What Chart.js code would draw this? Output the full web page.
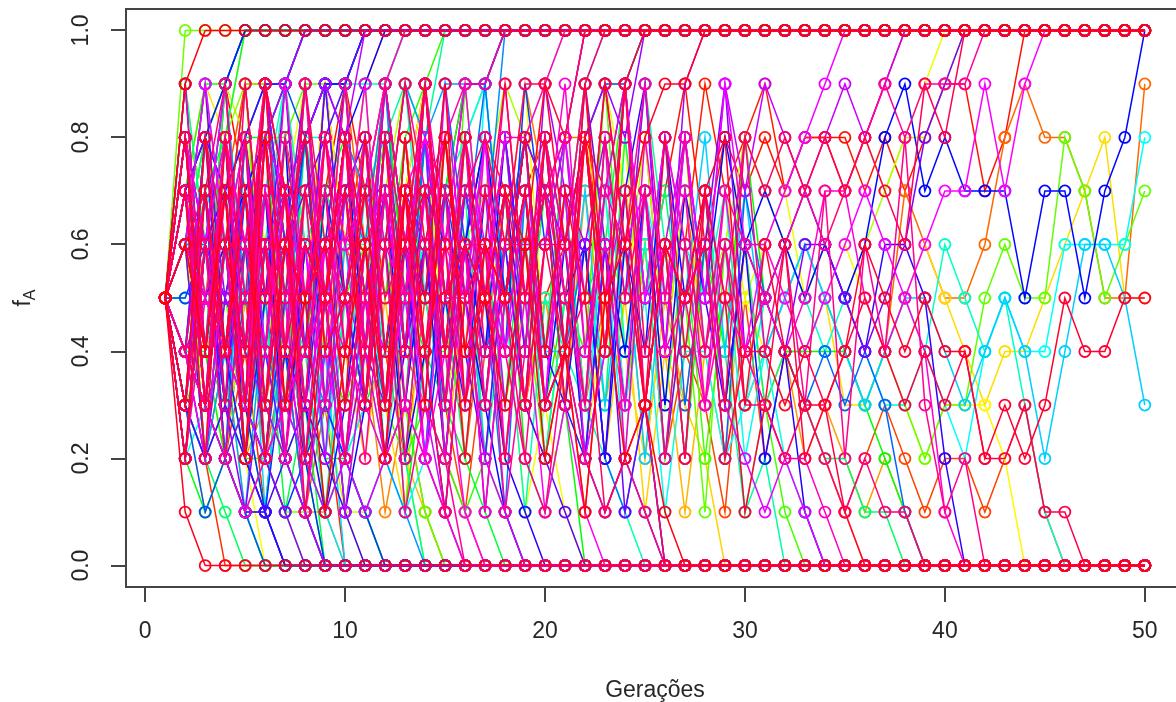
<!DOCTYPE html>
<html>
<head>
<meta charset="utf-8">
<script src="https://cdn.jsdelivr.net/npm/chart.js@4.4.1/dist/chart.umd.min.js"></script>
<style>
html,body{margin:0;padding:0;overflow:hidden;background:#ffffff;}
#wrap{width:1200px;height:702px;}
canvas{display:block;}
</style>
</head>
<body>
<div id="wrap"><canvas id="c" width="1200" height="702"></canvas></div>
<script>
// ---- data: generations (x) ----
const generations = [1,2,3,4,5,6,7,8,9,10,11,12,13,14,15,16,17,18,19,20,21,22,23,24,25,26,27,28,29,30,31,32,33,34,35,36,37,38,39,40,41,42,43,44,45,46,47,48,49,50];
const xTicks = [0,10,20,30,40,50];
const yTicks = [0,0.2,0.4,0.6,0.8,1.0];
const yTickLabels = ["0.0","0.2","0.4","0.6","0.8","1.0"];
const xTitle = "Gerações";
const yTitleMain = "f";
const yTitleSub = "A";
// ---- data: allele frequency of each population, in tenths (A = 10), generations 1-50 in groups of ten ----
const runs = [
"5746532100 0000000000 0000000000 0000000000 0000000000",
"5649738574 6385799AAA AAAAAAAAAA AAAAAAAAAA AAAAAAAAAA",
"5736858679 7958768478 6879579687 8788878789 978AAAAAAA",
"5362547496 8579468735 6947586978 9788789AAA AAAAAAAAAA",
"5372415230 0000000000 0000000000 0000000000 0000000000",
"5320000000 0000000000 0000000000 0000000000 0000000000",
"5847696848 79AAAAAAAA AAAAAAAAAA AAAAAAAAAA AAAAAAAAAA",
"5724635243 6425314632 4153624315 2432123212 2123100000",

"5687999AAA AAAAAAAAAA AAAAAAAAAA AAAAAAAAAA AAAAAAAAAA",
"5263524132 1000000000 0000000000 0000000000 0000000000",
"5434545676 5443210000 0000000000 0000000000 0000000000",
"5386472659 6374725684 7356847463 4565434765 5689887559",
"5758696758 4637548697 8899AAAAAA AAAAAAAAAA AAAAAAAAAA",
"5789AAAAAA AAAAAAAAAA AAAAAAAAAA AAAAAAAAAA AAAAAAAAAA",
"5426374152 4131000000 0000000000 0000000000 0000000000",
"5434232110 0000000000 0000000000 0000000000 0000000000",

"5847463648 5967364735 3746253624 3423212100 0000000000",
"5836957846 9AAAAAAAAA AAAAAAAAAA AAAAAAAAAA AAAAAAAAAA",
"5645789AAA AAAAAAAAAA AAAAAAAAAA AAAAAAAAAA AAAAAAAAAA",
"5268475376 4836253748 5635741426 3232100000 0000000000",
"5374625314 2521000000 0000000000 0000000000 0000000000",
"5312100000 0000000000 0000000000 0000000000 0000000000",
"5693748596 7384695847 3625143200 0000000000 0000000000",
"5473869654 7316462587 3864257356 6545334565 4344567855",

"5798AAAAAA AAAAAAAAAA AAAAAAAAAA AAAAAAAAAA AAAAAAAAAA",
"5478AAAAAA AAAAAAAAAA AAAAAAAAAA AAAAAAAAAA AAAAAAAAAA",
"5637248596 3748452694 7258364735 4345654323 3320000000",
"5564200000 0000000000 0000000000 0000000000 0000000000",
"5734862647 5368472513 1000000000 0000000000 0000000000",
"5794867958 6479585769 8497568375 675678789A AAAAAAAAAA",
"5628495738 69AAAAAAAA AAAAAAAAAA AAAAAAAAAA AAAAAAAAAA",
"5432100000 0000000000 0000000000 0000000000 0000000000",

"5657654321 1000000000 0000000000 0000000000 0000000000",
"5374126231 0000000000 0000000000 0000000000 0000000000",
"5789899AAA AAAAAAAAAA AAAAAAAAAA AAAAAAAAAA AAAAAAAAAA",
"5384746958 4796358574 6965847568 7656567889 AAAAAAAAAA",
"5869475836 9475867989 AAAAAAAAAA AAAAAAAAAA AAAAAAAAAA",
"5323432100 0000000000 0000000000 0000000000 0000000000",
"5642573514 3620000000 0000000000 0000000000 0000000000",
"5878999AAA AAAAAAAAAA AAAAAAAAAA AAAAAAAAAA AAAAAAAAAA",

"5454321100 0000000000 0000000000 0000000000 0000000000",
"5967685948 69AAAAAAAA AAAAAAAAAA AAAAAAAAAA AAAAAAAAAA",
"5AAAAAAAAA AAAAAAAAAA AAAAAAAAAA AAAAAAAAAA AAAAAAAAAA",
"5625374245 3726485352 5473625164 5445434323 3565587567",
"5254637251 4231000000 0000000000 0000000000 0000000000",
"5676788999 AAAAAAAAAA AAAAAAAAAA AAAAAAAAAA AAAAAAAAAA",
"5736948375 6847395762 5494736251 3100000000 0000000000",
"5343221000 0000000000 0000000000 0000000000 0000000000",

"5687656543 4323212100 0000000000 0000000000 0000000000",
"5374826374 7589AAAAAA AAAAAAAAAA AAAAAAAAAA AAAAAAAAAA",
"5799AAAAAA AAAAAAAAAA AAAAAAAAAA AAAAAAAAAA AAAAAAAAAA",
"5456787899 AAAAAAAAAA AAAAAAAAAA AAAAAAAAAA AAAAAAAAAA",
"5642315200 0000000000 0000000000 0000000000 0000000000",
"5736264857 3614475263 5847362648 5444432100 0000000000",
"5857396478 5956485721 3000000000 0000000000 0000000000",
"5212100000 0000000000 0000000000 0000000000 0000000000",

"5665432322 1000000000 0000000000 0000000000 0000000000",
"5726384952 6384799AAA AAAAAAAAAA AAAAAAAAAA AAAAAAAAAA",
"5767889AAA AAAAAAAAAA AAAAAAAAAA AAAAAAAAAA AAAAAAAAAA",
"5434323212 3454321000 0000000000 0000000000 0000000000",
"5364251300 0000000000 0000000000 0000000000 0000000000",
"5678AAAAAA AAAAAAAAAA AAAAAAAAAA AAAAAAAAAA AAAAAAAAAA",
"5849573869 4738526374 8569AAAAAA AAAAAAAAAA AAAAAAAAAA",
"5321000000 0000000000 0000000000 0000000000 0000000000",

"5264736365 4726365847 4638574636 3432211000 0000000000",
"5689AAAAAA AAAAAAAAAA AAAAAAAAAA AAAAAAAAAA AAAAAAAAAA",
"5565789AAA AAAAAAAAAA AAAAAAAAAA AAAAAAAAAA AAAAAAAAAA",
"5446543212 1000000000 0000000000 0000000000 0000000000",
"5472636415 3620000000 0000000000 0000000000 0000000000",
"5676545676 7898AAAAAA AAAAAAAAAA AAAAAAAAAA AAAAAAAAAA",
"5967465856 6475389564 7385962741 2000000000 0000000000",
"5434210000 0000000000 0000000000 0000000000 0000000000",

"5867364725 8356472515 4321000000 0000000000 0000000000",
"5263842100 0000000000 0000000000 0000000000 0000000000",
"5486279654 7253856472 5384626573 5654543346 5453100000",
"5434567889 99AAAAAAAA AAAAAAAAAA AAAAAAAAAA AAAAAAAAAA",
"5748369574 8695789AAA AAAAAAAAAA AAAAAAAAAA AAAAAAAAAA",
"5232100000 0000000000 0000000000 0000000000 0000000000",
"5386274635 8462739584 6273514462 4210000000 0000000000",
"5654345432 3212100000 0000000000 0000000000 0000000000",

"5372648563 7469583754 6362758423 4565434543 2454466668",
"5847396899 AAAAAAAAAA AAAAAAAAAA AAAAAAAAAA AAAAAAAAAA",
"5676567899 AAAAAAAAAA AAAAAAAAAA AAAAAAAAAA AAAAAAAAAA",
"5432123210 0000000000 0000000000 0000000000 0000000000",
"5362715240 0000000000 0000000000 0000000000 0000000000",
"5748362657 4864736584 4736265847 4565434554 3454246653",
"5696847526 3857462638 69AAAAAAAA AAAAAAAAAA AAAAAAAAAA",
"5787899AAA AAAAAAAAAA AAAAAAAAAA AAAAAAAAAA AAAAAAAAAA",

"5323210000 0000000000 0000000000 0000000000 0000000000",
"5324152100 0000000000 0000000000 0000000000 0000000000",
"5369574858 7698999AAA AAAAAAAAAA AAAAAAAAAA AAAAAAAAAA",
"5456543432 1210000000 0000000000 0000000000 0000000000",
"5768495837 6948576AAA AAAAAAAAAA AAAAAAAAAA AAAAAAAAAA",
"5667899AAA AAAAAAAAAA AAAAAAAAAA AAAAAAAAAA AAAAAAAAAA",
"5472836495 3748265173 4621300000 0000000000 0000000000",
"5847364145 3748569587 6899AAAAAA AAAAAAAAAA AAAAAAAAAA",

"5263847562 5375964683 7249583627 5434343100 0000000000",
"5869AAAAAA AAAAAAAAAA AAAAAAAAAA AAAAAAAAAA AAAAAAAAAA",
"5312100000 0000000000 0000000000 0000000000 0000000000",
"5565789899 AAAAAAAAAA AAAAAAAAAA AAAAAAAAAA AAAAAAAAAA",
"5374625837 4962758496 8AAAAAAAAA AAAAAAAAAA AAAAAAAAAA",
"5434321232 1000000000 0000000000 0000000000 0000000000",
"5426314200 0000000000 0000000000 0000000000 0000000000",
"5748256375 8462537584 3212100000 0000000000 0000000000",

"5789AAAAAA AAAAAAAAAA AAAAAAAAAA AAAAAAAAAA AAAAAAAAAA",
"5738496899 AAAAAAAAAA AAAAAAAAAA AAAAAAAAAA AAAAAAAAAA",
"5836472658 5749568573 6264737586 7656568978 777577578A",
"5432110000 0000000000 0000000000 0000000000 0000000000",
"5263748251 3624153100 0000000000 0000000000 0000000000",
"5656787898 9AAAAAAAAA AAAAAAAAAA AAAAAAAAAA AAAAAAAAAA",
"5847362658 4736264857 3626485736 2410000000 0000000000",
"5736264313 6246375210 0000000000 0000000000 0000000000",

"5947385657 4859463748 5627948536 5676546652 0000000000",
"5374210000 0000000000 0000000000 0000000000 0000000000",
"5767899AAA AAAAAAAAAA AAAAAAAAAA AAAAAAAAAA AAAAAAAAAA",
"5323212321 0000000000 0000000000 0000000000 0000000000",
"5694857369 4857699AAA AAAAAAAAAA AAAAAAAAAA AAAAAAAAAA",
"5372659467 8365742632 1000000000 0000000000 0000000000",
"5483726495 3847261538 4261300000 0000000000 0000000000",
"5787656789 AAAAAAAAAA AAAAAAAAAA AAAAAAAAAA AAAAAAAAAA",

"5625473658 5746365857 4963725694 5466545689 AAAAAAAAAA",
"5263142100 0000000000 0000000000 0000000000 0000000000",
"5432321000 0000000000 0000000000 0000000000 0000000000",
"5485736952 4376856587 6898AAAAAA AAAAAAAAAA AAAAAAAAAA",
"5748396857 4968375849 7685949AAA AAAAAAAAAA AAAAAAAAAA",
"5865432100 0000000000 0000000000 0000000000 0000000000",
"5837689AAA AAAAAAAAAA AAAAAAAAAA AAAAAAAAAA AAAAAAAAAA",
"5454567898 AAAAAAAAAA AAAAAAAAAA AAAAAAAAAA AAAAAAAAAA",

"5736485627 4968557366 8479568597 9878989AAA AAAAAAAAAA",
"5374826351 4263152100 0000000000 0000000000 0000000000",
"5434323212 1232100000 0000000000 0000000000 0000000000",
"5264737562 5473956583 4857365632 1210000000 0000000000",
"5869475638 6749586473 8596748596 6789AAAAAA AAAAAAAAAA",
"5696847265 8372658463 7249586374 6545676567 7979AAAAAA",
"5426375142 6352410000 0000000000 0000000000 0000000000",
"5654387463 5274638251 3100000000 0000000000 0000000000",

"5768497586 9478695889 AAAAAAAAAA AAAAAAAAAA AAAAAAAAAA",
"5738649586 79AAAAAAAA AAAAAAAAAA AAAAAAAAAA AAAAAAAAAA",
"5857364948 3659485736 9463857354 5457754541 0000000000",
"5432123454 3232100000 0000000000 0000000000 0000000000",
"5254736265 4837261574 6382745364 3221000000 0000000000",
"5748697386 4759683667 8AAAAAAAAA AAAAAAAAAA AAAAAAAAAA",
"5647382574 8697899AAA AAAAAAAAAA AAAAAAAAAA AAAAAAAAAA",
"5948362759 4857366148 5376958476 5676789899 9AAAAAAAAA",

"5437264735 2613200000 0000000000 0000000000 0000000000",
"5836274958 3726485957 5849362758 4637264831 2000000000",
"5362648573 5264735421 4212100000 0000000000 0000000000",
"5738594658 5967384526 6385726463 3232121100 0000000000",
"5473956384 7569463758 69AAAAAAAA AAAAAAAAAA AAAAAAAAAA",
"5679485967 4869578699 8AAAAAAAAA AAAAAAAAAA AAAAAAAAAA",
"5264837152 6384156263 4512300000 0000000000 0000000000",
"5386957485 7374856957 3859462738 7878787698 AAAAAAAAAA",

"5847263758 3696847536 4847365624 4343454343 4223110000",
"5728394657 3849565738 4956384751 3623100000 0000000000",
"5836497258 6367485769 6849AAAAAA AAAAAAAAAA AAAAAAAAAA",
"5274736845 7384626573 4856365783 6433465454 4232354455",
"5384726563 8475936584 7596899AAA AAAAAAAAAA AAAAAAAAAA",
"5100000000 0000000000 0000000000 0000000000 0000000000",
"5647283514 6273845362 4152310000 0000000000 0000000000",
"59AAAAAAAA AAAAAAAAAA AAAAAAAAAA AAAAAAAAAA AAAAAAAAAA"
];

const FONT = "'Liberation Sans', Arial, Helvetica, sans-serif";
const n = runs.length;
function decode(s){ return s.replace(/\s+/g,'').split('').map(c => (c === 'A' ? 10 : Number(c)) / 10); }
function rainbow(i){ return 'hsl(' + (i * 360 / n).toFixed(2) + ',100%,50%)'; }

const datasets = runs.map((s, i) => {
  const vals = decode(s);
  const col = rainbow(i);
  return {
    label: 'pop ' + (i + 1),
    data: generations.map((g, k) => ({x: g, y: vals[k]})),
    borderColor: col,
    backgroundColor: 'rgba(0,0,0,0)',
    borderWidth: 1.5,
    pointRadius: 5.5,
    pointBorderWidth: 1.8,
    pointBorderColor: col,
    pointBackgroundColor: 'rgba(0,0,0,0)',
    pointHoverRadius: 5.5,
    tension: 0,
    fill: false,
    order: n - i
  };
});

const framePlugin = {
  id: 'frame',
  afterDatasetsDraw(chart){
    const {ctx, chartArea: a} = chart;
    ctx.save();
    ctx.strokeStyle = '#444';
    ctx.lineWidth = 2;
    ctx.strokeRect(a.left, a.top, a.right - a.left, a.bottom - a.top);
    ctx.restore();
  },
  afterDraw(chart){
    const {ctx, chartArea: a} = chart;
    ctx.save();
    ctx.fillStyle = '#262626';
    const cy = (a.top + a.bottom) / 2;
    ctx.translate(24, cy);
    ctx.rotate(-Math.PI / 2);
    ctx.font = '23px ' + FONT;
    const wf = ctx.measureText(yTitleMain).width;
    ctx.font = '16px ' + FONT;
    const ws = ctx.measureText(yTitleSub).width;
    const start = -(wf + ws) / 2;
    ctx.textBaseline = 'alphabetic';
    ctx.textAlign = 'left';
    ctx.font = '23px ' + FONT;
    ctx.fillText(yTitleMain, start, 6);
    ctx.font = '16px ' + FONT;
    ctx.fillText(yTitleSub, start + wf, 11);
    ctx.restore();
  }
};

new Chart(document.getElementById('c'), {
  type: 'line',
  data: { datasets },
  options: {
    responsive: false,
    animation: false,
    events: [],
    devicePixelRatio: 1,
    layout: { padding: { top: 9, right: 16, left: 0, bottom: 0 } },
    plugins: { legend: { display: false }, tooltip: { enabled: false }, title: { display: false } },
    scales: {
      x: {
        type: 'linear',
        min: -0.96,
        max: 51.96,
        afterBuildTicks(s){ s.ticks = xTicks.map(v => ({value: v})); },
        afterFit(s){ s.height = 115; s.paddingLeft = 0; s.paddingRight = 0; },
        border: { display: false },
        grid: { display: true, drawOnChartArea: false, drawTicks: true, tickLength: 15, tickWidth: 2, tickColor: '#444', lineWidth: 2, color: '#444' },
        ticks: { autoSkip: false, maxRotation: 0, minRotation: 0, padding: 16, color: '#262626', font: { family: FONT, size: 23 }, callback: v => String(v) },
        title: { display: true, text: xTitle, color: '#262626', font: { family: FONT, size: 23, lineHeight: 1 }, padding: { top: 0, bottom: 0 } }
      },
      y: {
        type: 'linear',
        min: -0.04,
        max: 1.04,
        afterBuildTicks(s){ s.ticks = yTicks.map(v => ({value: v})); },
        afterFit(s){ s.width = 126; s.paddingTop = 0; s.paddingBottom = 0; },
        border: { display: false },
        grid: { display: true, drawOnChartArea: false, drawTicks: true, tickLength: 15, tickWidth: 2, tickColor: '#444', lineWidth: 2, color: '#444' },
        ticks: { autoSkip: false, minRotation: 90, maxRotation: 90, crossAlign: 'center', padding: 13, color: '#262626', font: { family: FONT, size: 23 },
                 callback: (v, idx) => yTickLabels[idx] }
      }
    }
  },
  plugins: [framePlugin]
});
</script>
</body>
</html>
